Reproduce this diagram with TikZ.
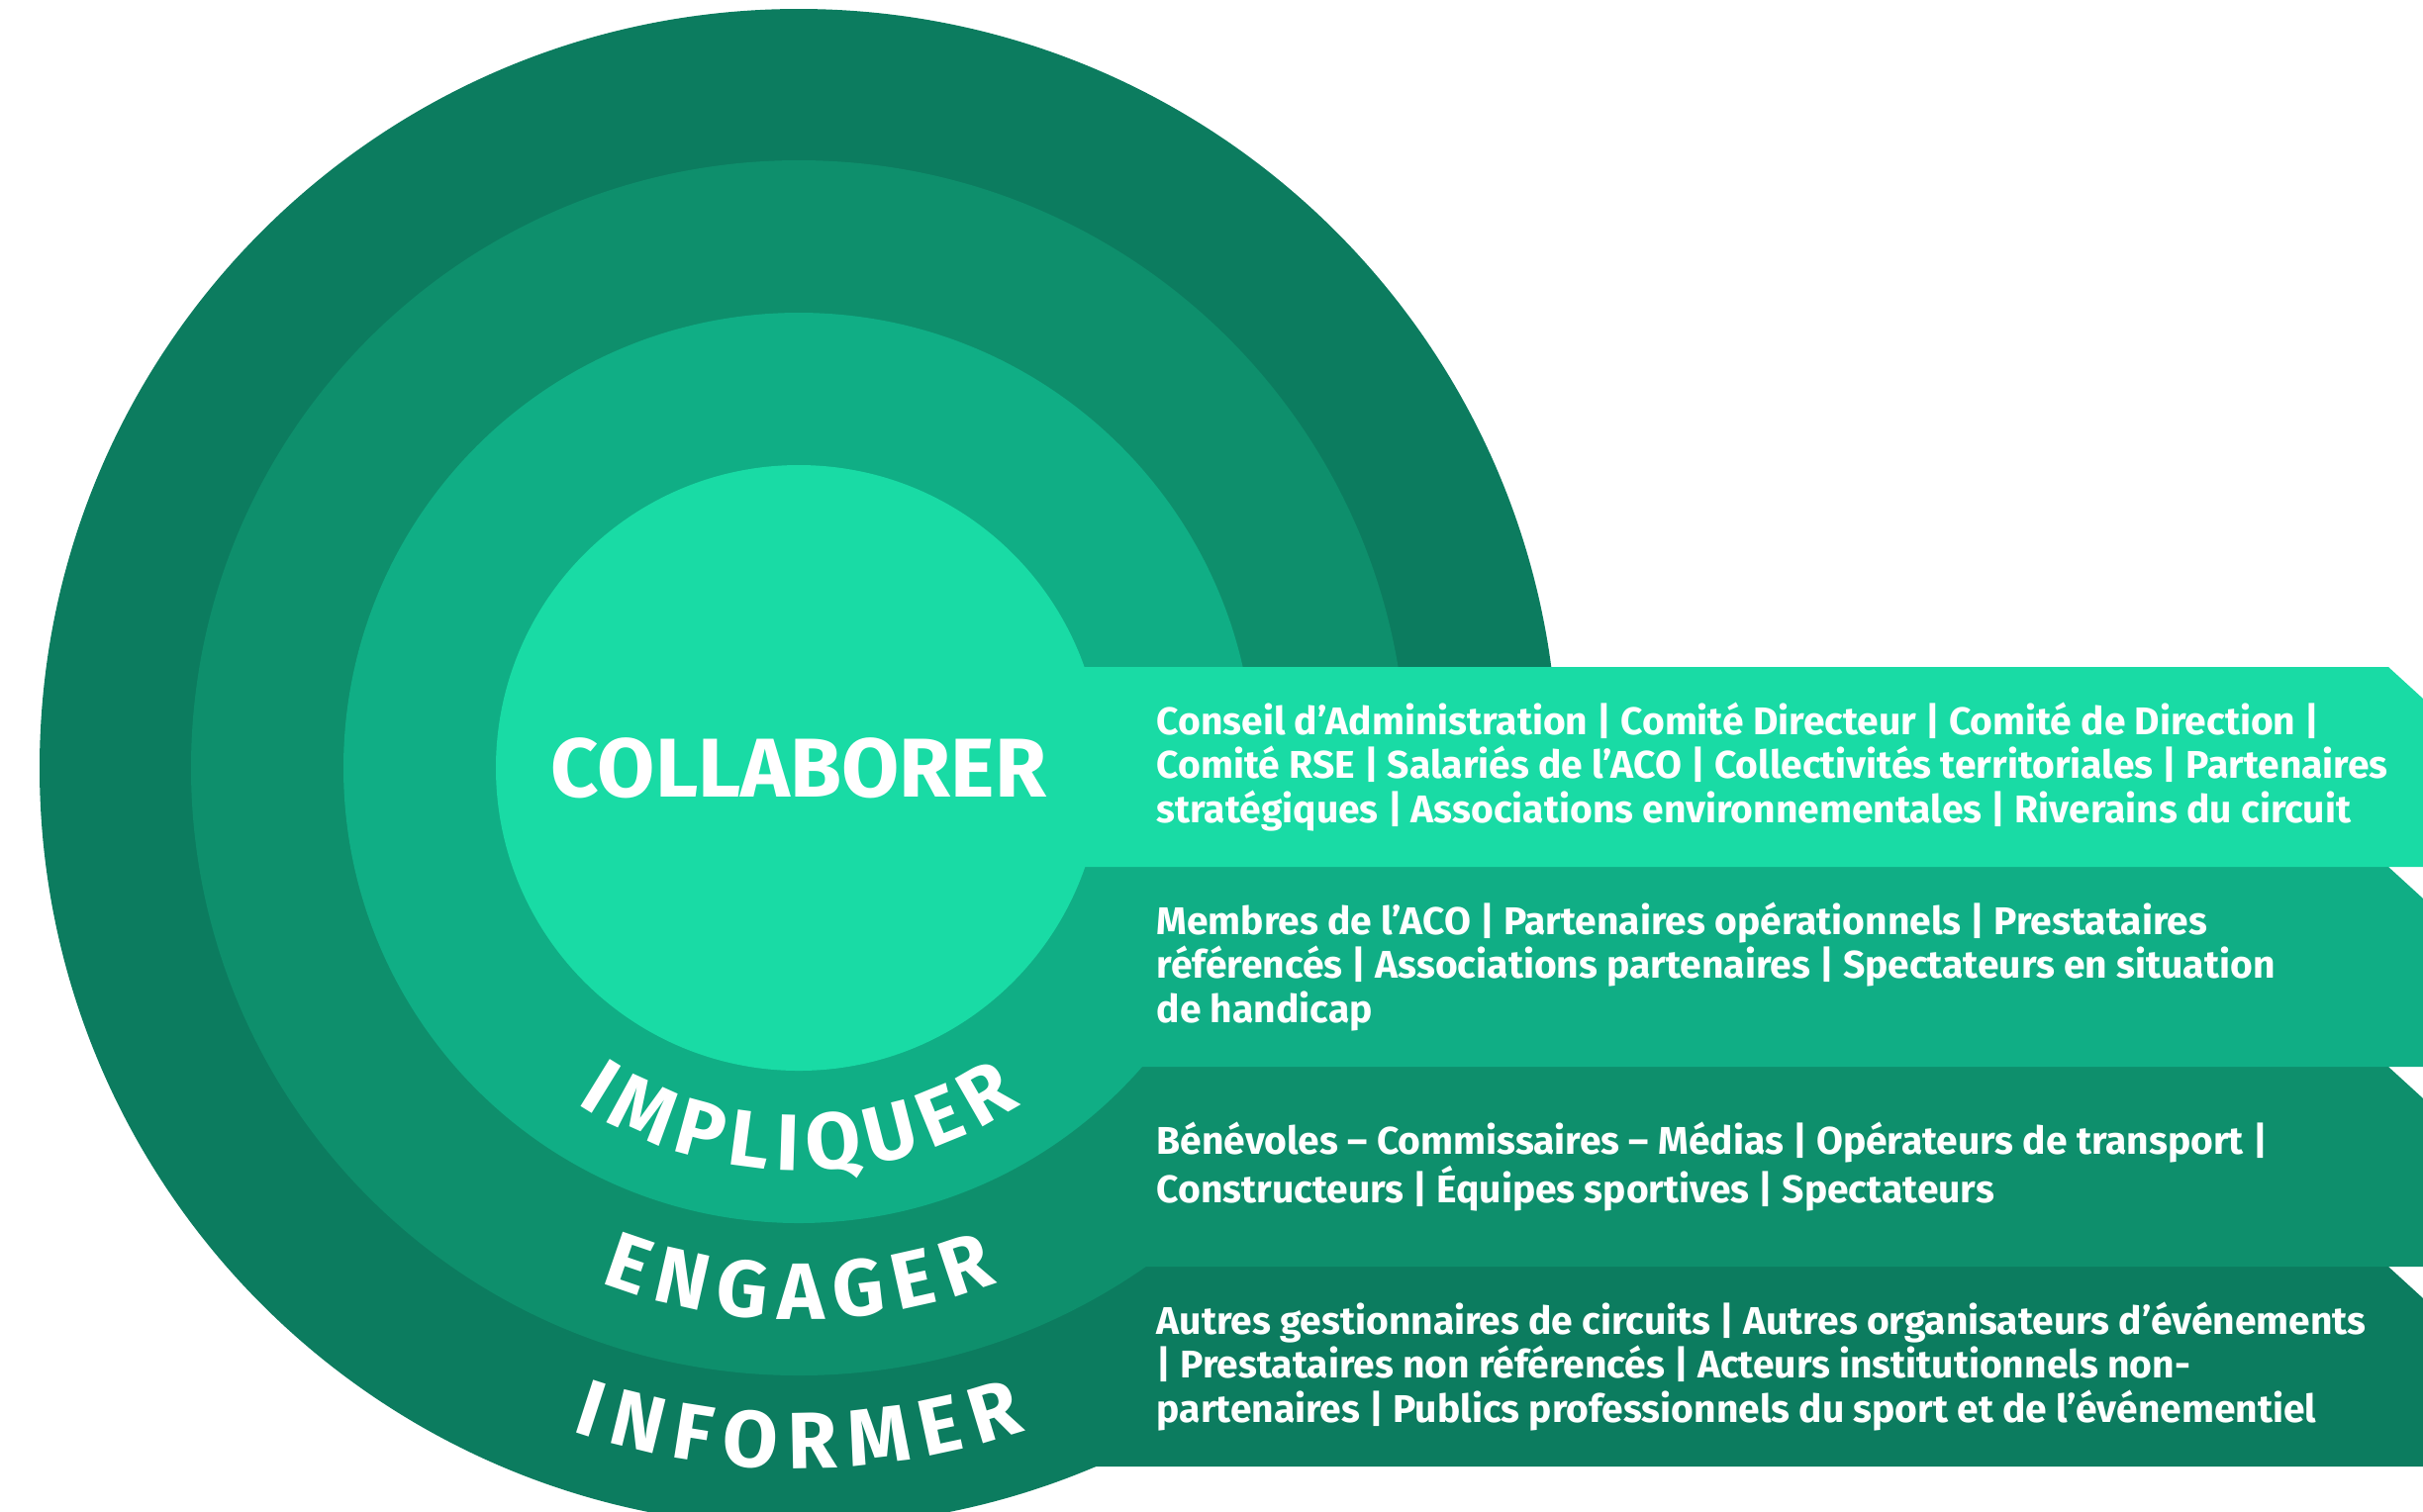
\documentclass[tikz,border=0pt]{standalone}
\usepackage{fontspec}
\setmainfont{Fira Sans}
\usetikzlibrary{decorations.text}

\definecolor{ringA}{RGB}{25,219,165}
\definecolor{ringB}{RGB}{16,174,133}
\definecolor{ringC}{RGB}{14,143,108}
\definecolor{ringD}{RGB}{12,124,95}
\newcommand{\levelfont}{\fontsize{23}{24}\selectfont\bfseries}
\newdimen\gapw
\newcommand{\gap}{\kern\gapw}
\tikzset{
  level/.style={font=\fontsize{24}{25}\selectfont\bfseries, text=white, inner sep=0pt},
  audience/.style={anchor=west, align=left, text=white, inner sep=0pt,
    font=\fontsize{11.1}{12.66}\selectfont\bfseries},
  arclabel/.style={decorate, decoration={text along path, text align=center,
    text color=white, text={|\levelfont|#1}}}
}

\begin{document}
\begin{tikzpicture}[x=0.1mm, y=-0.1mm]
\useasboundingbox (0,0) rectangle (2448,1527);
\clip (0,0) rectangle (2448,1527);
\coordinate (C) at (807,776);

% rings and their bands, outside in
\foreach \col/\r/\top/\bot in {ringD/767/1280/1482, ringC/614/1078/1280,
                               ringB/460/876/1078, ringA/306/674/876} {
  \fill[\col] (C) circle (\r);
  \fill[\col] (807,\top) -- (2413,\top) -- (2448,\top+32) -- (2448,\bot) -- (807,\bot) -- cycle;
}

\node[level] (collab) at (C) {COLLABORER};
\gapw=2.6pt
\path[arclabel={I{\gap}M{\gap}P{\gap}L{\gap}I{\gap}Q{\gap}U{\gap}E{\gap}R}]
  ([shift={(150:407)}]C) arc[start angle=150, end angle=30, radius=407];
\gapw=3.3pt
\path[arclabel={E{\gap}N{\gap}G{\gap}A{\gap}G{\gap}E{\gap}R}]
  ([shift={(140:557)}]C) arc[start angle=140, end angle=40, radius=557];
\gapw=3.6pt
\path[arclabel={I{\gap}N{\gap}F{\gap}O{\gap}R{\gap}M{\gap}E{\gap}R}]
  ([shift={(130:708)}]C) arc[start angle=130, end angle=50, radius=708];

% stakeholders
\node[audience] (collabTxt) at (1168,775) {Conseil d’Administration | Comité Directeur | Comité de Direction |\\
  Comité RSE | Salariés de l’ACO | Collectivités territoriales | Partenaires\\
  stratégiques | Associations environnementales | Riverains du circuit};
\node[audience] (implTxt) at (1168,977) {Membres de l’ACO | Partenaires opérationnels | Prestataires\\
  référencés | Associations partenaires | Spectateurs en situation\\
  de handicap};
\node[audience] (engTxt) at (1168,1179) {Bénévoles – Commissaires – Médias | Opérateurs de transport |\\
  Constructeurs | Équipes sportives | Spectateurs};
\node[audience] (infoTxt) at (1168,1381) {Autres gestionnaires de circuits | Autres organisateurs d’événements\\
  | Prestataires non référencés | Acteurs institutionnels non-\\
  partenaires | Publics professionnels du sport et de l’événementiel};
\end{tikzpicture}
\end{document}
